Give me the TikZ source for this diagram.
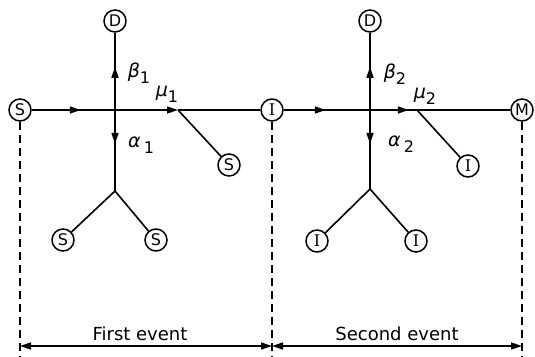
\documentclass[tikz,border=0pt]{standalone}
\usepackage{fontspec}
\setmainfont{DejaVu Sans}
\newfontfamily\serifI{DejaVu Serif}
\usetikzlibrary{arrows.meta,decorations.markings}
\tikzset{
  x=1pt,y=-1pt,
  ball/.style={circle,draw,line width=1.5pt,minimum size=22pt,inner sep=0pt,font=\fontsize{16}{16}\selectfont},
  wire/.style={line width=1.6pt},
  tip/.tip={Triangle[length=11pt,width=7pt]},
  guide/.style={line width=1.3pt,dash pattern=on 8pt off 5pt},
  lab/.style={inner sep=0pt,font=\fontsize{19}{19}\selectfont\itshape},
  evt/.style={inner sep=0pt,font=\fontsize{18}{18}\selectfont}
}
\newcommand{\sbs}[1]{\raisebox{-6pt}{\fontsize{16}{16}\selectfont\upshape #1}}
\begin{document}
\begin{tikzpicture}
\useasboundingbox (0,0) rectangle (535,356);
% circles
\node[ball] (S1) at (20,110) {S};
\node[ball] (D1) at (115,21) {D};
\node[ball] (I1) at (272,110) {\serifI I};
\node[ball] (Sm) at (229,165) {S};
\node[ball] (Sa) at (63,240) {S};
\node[ball] (Sb) at (156,240) {S};
\node[ball] (D2) at (370,21) {D};
\node[ball] (M) at (522,110) {M};
\node[ball] (Im) at (468,166) {\serifI I};
\node[ball] (Ia) at (317,241) {\serifI I};
\node[ball] (Ib) at (416,241) {\serifI I};
% junctions
\coordinate (J1b) at (115,191);
\coordinate (K1) at (178,110);
\coordinate (J2b) at (370,189);
\coordinate (K2) at (417,110);
% bottom
\coordinate (B1) at (20,356);
\coordinate (B2) at (272,356);
\coordinate (B3) at (522,356);
\coordinate (L1) at (20,346);
\coordinate (L2) at (272,346);
\coordinate (L3) at (522,346);
% first event
\draw[wire,postaction={decorate},decoration={markings,
  mark=at position 49pt with {\arrow{tip}}}, -tip] (S1) -- (K1);
\draw[wire] (K1) -- (I1);
\draw[wire,postaction={decorate},decoration={markings,
  mark=at position 34pt with {\arrowreversed{tip}},
  mark=at position 111pt with {\arrow{tip}}}] (D1) -- (J1b);
\draw[wire] (J1b) -- (Sa);
\draw[wire] (J1b) -- (Sb);
\draw[wire] (K1) -- (Sm);
% second event
\draw[wire,postaction={decorate},decoration={markings,
  mark=at position 42pt with {\arrow{tip}},
  mark=at position 125pt with {\arrow{tip}}}] (I1) -- (M);
\draw[wire,postaction={decorate},decoration={markings,
  mark=at position 34pt with {\arrowreversed{tip}},
  mark=at position 111pt with {\arrow{tip}}}] (D2) -- (J2b);
\draw[wire] (J2b) -- (Ia);
\draw[wire] (J2b) -- (Ib);
\draw[wire] (K2) -- (Im);
% labels
\node[lab] (b1) at (139,73) {β\sbs{1}};
\node[lab] (m1) at (167,94) {μ\sbs{1}};
\node[lab] (a1) at (141,145) {α\,\sbs{1}};
\node[lab] (b2) at (395,74) {β\sbs{2}};
\node[lab] (m2) at (425,96) {μ\sbs{2}};
\node[lab] (a2) at (401,144) {α\,\sbs{2}};
% guides
\draw[guide] (S1) -- (B1);
\draw[guide] (I1) -- (B2);
\draw[guide] (M) -- (B3);
\draw[line width=1.4pt,tip-tip] (L1) -- (L2);
\draw[line width=1.4pt,tip-tip] (L2) -- (L3);
\node[evt] (e1) at (140,334) {First event};
\node[evt] (e2) at (397,334) {Second event};
\end{tikzpicture}
\end{document}
